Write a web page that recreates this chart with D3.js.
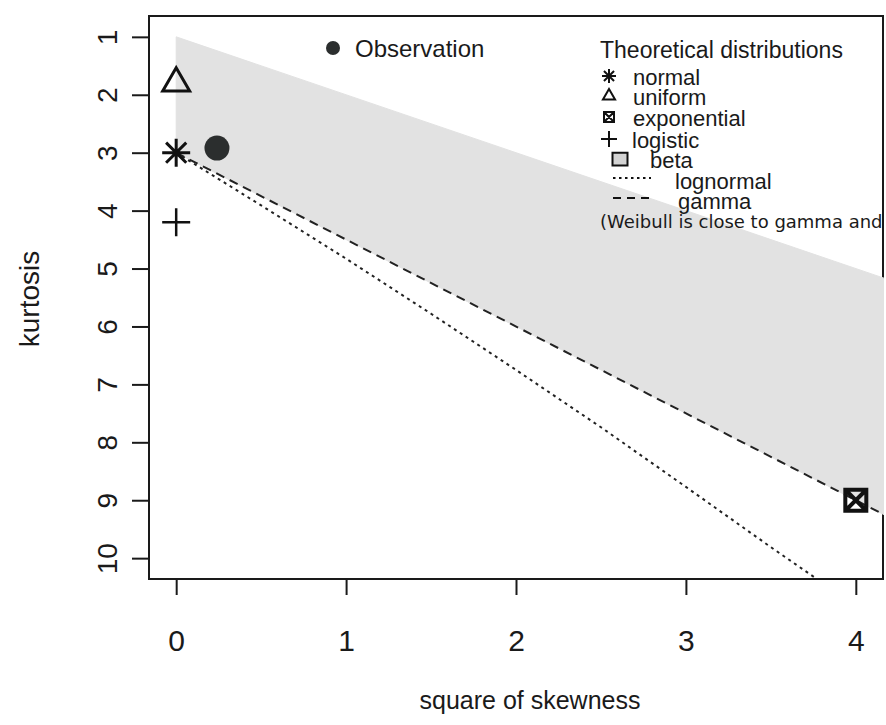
<!DOCTYPE html>
<html>
<head>
<meta charset="utf-8">
<script src="https://cdn.jsdelivr.net/npm/d3@7"></script>
<style>
  body { margin: 0; background: #fff; }
  svg { display: block; font-family: "Liberation Sans", Arial, sans-serif; }
  .axis text { fill: #1a1a1a; }
  .axis line { stroke: #1a1a1a; stroke-width: 2; }
</style>
</head>
<body>
<div id="chart"></div>
<script>
var xTicks = [0, 1, 2, 3, 4];
var yTicks = [1, 2, 3, 4, 5, 6, 7, 8, 9, 10];

// observation (square of skewness, kurtosis)
var obsSkew2 = [0.24];
var obsKurt = [2.92];

// theoretical single points
var pointNames = ["normal", "uniform", "exponential", "logistic"];
var pointSkew2 = [0, 0, 4, 0];
var pointKurt = [3, 1.8, 9, 4.2];

// beta region outline
var betaSkew2 = [0, 4.2, 4.2, 0];
var betaKurt = [1, 5.2, 9.3, 3];

// lognormal curve
var lnormSkew2 = [0, 0.5, 1, 1.5, 2, 2.5, 3, 3.5, 3.8];
var lnormKurt = [3, 3.91, 4.83, 5.78, 6.75, 7.74, 8.77, 9.81, 10.42];

// gamma line
var gammaSkew2 = [0, 4.2];
var gammaKurt = [3, 9.3];

var legendNames = ["normal", "uniform", "exponential", "logistic", "beta", "lognormal", "gamma"];

var W = 886, H = 725;
var frame = {left: 149, right: 883, top: 16, bottom: 579};

var x = d3.scaleLinear().domain([-0.16, 4.16]).range([frame.left, frame.right]);
var y = d3.scaleLinear().domain([0.64, 10.36]).range([frame.top, frame.bottom]);

var svg = d3.select("#chart").append("svg")
    .attr("width", W)
    .attr("height", H);

svg.append("rect").attr("width", W).attr("height", H).attr("fill", "#fff");

// clip for things drawn inside the plot (polygon covers the frame like R does)
svg.append("clipPath").attr("id", "plotclip")
  .append("rect")
    .attr("x", frame.left).attr("y", frame.top)
    .attr("width", frame.right - frame.left + 1)
    .attr("height", frame.bottom - frame.top);

// frame
svg.append("rect")
    .attr("x", frame.left).attr("y", frame.top)
    .attr("width", frame.right - frame.left)
    .attr("height", frame.bottom - frame.top)
    .attr("fill", "none")
    .attr("stroke", "#1a1a1a")
    .attr("stroke-width", 2);

// x axis
var xAxis = svg.append("g")
    .attr("class", "axis")
    .attr("transform", "translate(0," + frame.bottom + ")")
    .call(d3.axisBottom(x).tickValues(xTicks).tickSize(16).tickFormat(d3.format("d")));
xAxis.select(".domain").remove();
xAxis.selectAll("text")
    .attr("y", 61)
    .attr("dy", null)
    .attr("dominant-baseline", "central")
    .attr("font-size", 30);

// y axis, labels parallel to the axis
var yAxis = svg.append("g")
    .attr("class", "axis")
    .attr("transform", "translate(" + frame.left + ",0)")
    .call(d3.axisLeft(y).tickValues(yTicks).tickSize(17).tickFormat(d3.format("d")));
yAxis.select(".domain").remove();
yAxis.selectAll("text")
    .attr("transform", "rotate(-90)")
    .attr("x", 0)
    .attr("y", -42)
    .attr("dy", null)
    .attr("text-anchor", "middle")
    .attr("dominant-baseline", "central")
    .attr("font-size", 28);

// axis titles
svg.append("text")
    .attr("x", 530).attr("y", 700)
    .attr("text-anchor", "middle")
    .attr("dominant-baseline", "central")
    .attr("font-size", 25)
    .attr("fill", "#1a1a1a")
    .text("square of skewness");

svg.append("text")
    .attr("transform", "translate(29,299) rotate(-90)")
    .attr("text-anchor", "middle")
    .attr("dominant-baseline", "central")
    .attr("font-size", 28)
    .attr("fill", "#1a1a1a")
    .text("kurtosis");

var plot = svg.append("g").attr("clip-path", "url(#plotclip)");

// beta region
var betaPts = betaSkew2.map(function(d, i) { return [x(d), y(betaKurt[i])]; });
plot.append("path")
    .attr("d", d3.line()(betaPts) + "Z")
    .attr("fill", "#e2e2e2")
    .attr("stroke", "#e2e2e2")
    .attr("stroke-width", 1);

var line = d3.line()
    .x(function(d) { return x(d[0]); })
    .y(function(d) { return y(d[1]); });

// lognormal (dotted)
plot.append("path")
    .datum(lnormSkew2.map(function(d, i) { return [d, lnormKurt[i]]; }))
    .attr("d", line)
    .attr("fill", "none")
    .attr("stroke", "#222")
    .attr("stroke-width", 2)
    .attr("stroke-dasharray", "3,4");

// gamma (dashed)
plot.append("path")
    .datum(gammaSkew2.map(function(d, i) { return [d, gammaKurt[i]]; }))
    .attr("d", line)
    .attr("fill", "none")
    .attr("stroke", "#222")
    .attr("stroke-width", 2)
    .attr("stroke-dasharray", "9,6");

// symbol paths, centred on 0,0
function markPath(kind, r) {
  var p = d3.path();
  var d = r * 0.72;
  if (kind == "plus" || kind == "asterisk") {
    p.moveTo(-r, 0); p.lineTo(r, 0);
    p.moveTo(0, -r); p.lineTo(0, r);
  }
  if (kind == "asterisk") {
    p.moveTo(-d, -d); p.lineTo(d, d);
    p.moveTo(-d, d); p.lineTo(d, -d);
  }
  if (kind == "triangle") {
    p.moveTo(0, -1.555 * r);
    p.lineTo(1.347 * r, 0.778 * r);
    p.lineTo(-1.347 * r, 0.778 * r);
    p.closePath();
  }
  if (kind == "boxx") {
    p.rect(-r, -r, 2 * r, 2 * r);
    p.moveTo(-r, -r); p.lineTo(r, r);
    p.moveTo(-r, r); p.lineTo(r, -r);
  }
  if (kind == "square") {
    p.rect(-r, -r * 0.85, 2 * r, 1.7 * r);
  }
  return p.toString();
}

var pointKinds = {normal: "asterisk", uniform: "triangle", exponential: "boxx", logistic: "plus"};
var pointSize = {normal: 14, uniform: 10, exponential: 10.5, logistic: 14};
var pointStroke = {normal: 3, uniform: 3, exponential: 4, logistic: 2.5};

svg.selectAll(".dist")
    .data(pointNames)
  .enter().append("path")
    .attr("class", "dist")
    .attr("transform", function(d, i) { return "translate(" + x(pointSkew2[i]) + "," + y(pointKurt[i]) + ")"; })
    .attr("d", function(d) { return markPath(pointKinds[d], pointSize[d]); })
    .attr("fill", "none")
    .attr("stroke", "#111")
    .attr("stroke-width", function(d) { return pointStroke[d]; });

// observation
svg.selectAll(".obs")
    .data(obsSkew2)
  .enter().append("circle")
    .attr("class", "obs")
    .attr("cx", function(d) { return x(d); })
    .attr("cy", function(d, i) { return y(obsKurt[i]); })
    .attr("r", 12.5)
    .attr("fill", "#2b2e2e");

// observation legend
svg.append("circle").attr("cx", 333).attr("cy", 48).attr("r", 7).attr("fill", "#2b2e2e");
svg.append("text")
    .attr("x", 355).attr("y", 48)
    .attr("dominant-baseline", "central")
    .attr("font-size", 24)
    .attr("fill", "#1a1a1a")
    .text("Observation");

// theoretical distributions legend
var leg = svg.append("g").attr("fill", "#1a1a1a");
leg.append("text")
    .attr("x", 600).attr("y", 50)
    .attr("dominant-baseline", "central")
    .attr("font-size", 23)
    .text("Theoretical distributions");

var legY = [77, 97, 118, 140, 160, 181, 201];
var legTextX = [633, 633, 633, 632, 650, 675, 678];
var legKind = {normal: "asterisk", uniform: "triangle", exponential: "boxx", logistic: "plus", beta: "square"};
var legSize = {normal: 7, uniform: 4.5, exponential: 5, logistic: 8, beta: 7.5};

legendNames.forEach(function(name, i) {
  leg.append("text")
      .attr("x", legTextX[i]).attr("y", legY[i])
      .attr("dominant-baseline", "central")
      .attr("font-size", 22)
      .text(name);
  if (legKind[name]) {
    leg.append("path")
        .attr("transform", "translate(" + (name == "beta" ? 620 : 609) + "," + (legY[i] - 1) + ")")
        .attr("d", markPath(legKind[name], legSize[name]))
        .attr("fill", name == "beta" ? "#d3d3d3" : "none")
        .attr("stroke", "#111")
        .attr("stroke-width", 2);
  } else {
    leg.append("line")
        .attr("x1", 613).attr("x2", 651)
        .attr("y1", legY[i] - 3).attr("y2", legY[i] - 3)
        .attr("stroke", "#111")
        .attr("stroke-width", 2)
        .attr("stroke-dasharray", name == "lognormal" ? "2.5,3.5" : "8,6");
  }
});

leg.append("text")
    .attr("x", 600).attr("y", 221)
    .attr("dominant-baseline", "central")
    .attr("font-family", "DejaVu Sans, sans-serif")
    .attr("font-size", 18)
    .text("(Weibull is close to gamma and lognormal)");
</script>
</body>
</html>
